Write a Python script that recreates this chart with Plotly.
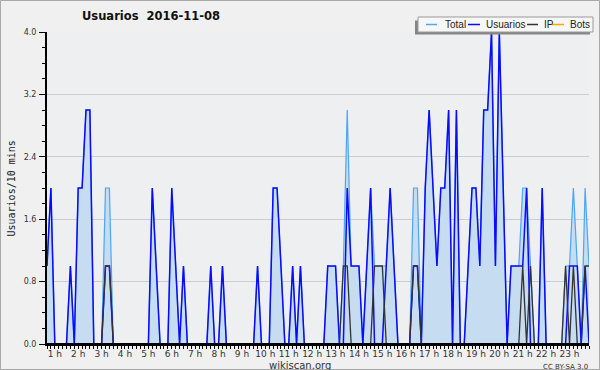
import plotly.graph_objects as go

# 10-minute intervals from 00:40 to 23:50 (140 points), expressed in hours
start_min = 40
n_points = 140
hours = [(start_min + 10 * i) / 60 for i in range(n_points)]

total = [1, 2, 0, 0, 0, 0, 1, 0, 2, 2, 3, 3, 0, 0, 0, 2, 2, 0, 0, 0,
         0, 0, 0, 0, 0, 0, 0, 2, 1, 0, 0, 0, 2, 1, 0, 1, 0, 0, 0, 0,
         0, 0, 1, 0, 0, 1, 0, 0, 0, 0, 0, 0, 0, 0, 1, 0, 0, 0, 2, 2,
         1, 0, 0, 1, 0, 1, 0, 0, 0, 0, 0, 0, 1, 1, 1, 0, 1, 3, 1, 1,
         1, 0, 1, 2, 1, 1, 1, 1, 2, 1, 0, 0, 0, 0, 2, 2, 0, 2, 3, 2,
         1, 2, 2, 3, 0, 3, 0, 0, 1, 2, 2, 1, 3, 3, 4, 1, 4, 2, 0, 1,
         1, 1, 2, 2, 1, 0, 0, 2, 0, 0, 0, 0, 0, 1, 1, 2, 1, 0, 2, 1]

usuarios = [1, 2, 0, 0, 0, 0, 1, 0, 2, 2, 3, 3, 0, 0, 0, 1, 1, 0, 0, 0,
            0, 0, 0, 0, 0, 0, 0, 2, 1, 0, 0, 0, 2, 1, 0, 1, 0, 0, 0, 0,
            0, 0, 1, 0, 0, 1, 0, 0, 0, 0, 0, 0, 0, 0, 1, 0, 0, 0, 2, 2,
            1, 0, 0, 1, 0, 1, 0, 0, 0, 0, 0, 0, 1, 1, 1, 0, 0, 2, 1, 1,
            1, 0, 1, 2, 0, 0, 0, 1, 2, 1, 0, 0, 0, 0, 1, 1, 0, 2, 3, 2,
            1, 2, 2, 3, 0, 3, 0, 0, 1, 2, 2, 1, 3, 3, 4, 1, 4, 2, 0, 1,
            1, 1, 1, 2, 0, 0, 0, 2, 0, 0, 0, 0, 0, 0, 1, 1, 1, 0, 1, 0]

ip = [0, 0, 0, 0, 0, 0, 0, 0, 0, 0, 0, 0, 0, 0, 0, 1, 1, 0, 0, 0,
      0, 0, 0, 0, 0, 0, 0, 0, 0, 0, 0, 0, 0, 0, 0, 0, 0, 0, 0, 0,
      0, 0, 0, 0, 0, 0, 0, 0, 0, 0, 0, 0, 0, 0, 0, 0, 0, 0, 0, 0,
      0, 0, 0, 0, 0, 0, 0, 0, 0, 0, 0, 0, 0, 0, 0, 0, 1, 1, 0, 0,
      0, 0, 0, 0, 1, 1, 1, 0, 0, 0, 0, 0, 0, 0, 1, 1, 0, 0, 0, 0,
      0, 0, 0, 0, 0, 0, 0, 0, 0, 0, 0, 0, 0, 0, 0, 0, 0, 0, 0, 0,
      0, 0, 1, 0, 1, 0, 0, 0, 0, 0, 0, 0, 0, 1, 0, 1, 0, 0, 1, 1]

bots = [0] * n_points

hour_ticks = list(range(1, 24))
hour_labels = [f"{h} h" for h in hour_ticks]
y_ticks = [0.0, 0.8, 1.6, 2.4, 3.2, 4.0]

series_names = ["Total", "Usuarios", "IP", "Bots"]
series_colors = ["#4EA5F2", "#0A0AFF", "#333333", "#FFA500"]

W, H = 600, 370
L, R, T, B = 47, 589, 32, 344


def fx(p):
    return (p - L) / (R - L)


def fy(p):
    return (B - p) / (B - T)


fig = go.Figure()
fig.add_trace(go.Scatter(x=hours, y=total, mode="lines", name="Total",
                         line=dict(color=series_colors[0], width=1.2),
                         fill="tozeroy", fillcolor="#C6DCF0"))
fig.add_trace(go.Scatter(x=hours, y=usuarios, mode="lines", name="Usuarios",
                         line=dict(color=series_colors[1], width=1.5)))
fig.add_trace(go.Scatter(x=hours, y=ip, mode="lines", name="IP",
                         line=dict(color=series_colors[2], width=1.3)))
fig.add_trace(go.Scatter(x=hours, y=bots, mode="lines", name="Bots",
                         line=dict(color=series_colors[3], width=1)))

font_main = "DejaVu Sans"
font_legend = "Liberation Sans"

fig.update_layout(
    width=W, height=H,
    margin=dict(l=L, r=W - R, t=T, b=H - B, pad=0),
    paper_bgcolor="#F0F0F0",
    plot_bgcolor="#EEEFF1",
    showlegend=False,
    font=dict(family=font_main, color="#333333"),
    xaxis=dict(
        range=[hours[0], hours[-1]],
        tickvals=hour_ticks, ticktext=hour_labels,
        ticks="outside", ticklen=3, tickcolor="black", tickwidth=1,
        tickfont=dict(size=9, color="#333333", family=font_main),
        showgrid=False, zeroline=False,
        showline=True, linecolor="black", linewidth=2,
        minor=dict(dtick=1 / 6, tick0=0, ticks="outside", ticklen=3,
                   tickcolor="black", tickwidth=1, showgrid=False),
        ticklabelstandoff=-3,
    ),
    yaxis=dict(
        range=[0, 4],
        tickvals=y_ticks, ticktext=[f"{v:.1f}" for v in y_ticks],
        ticks="outside", ticklen=6, tickcolor="black", tickwidth=1,
        tickfont=dict(size=8, color="#333333", family=font_main),
        showgrid=True, gridcolor="#CCCCCC", gridwidth=1,
        zeroline=False,
        showline=True, linecolor="black", linewidth=2,
        minor=dict(dtick=0.2, ticks="outside", ticklen=3,
                   tickcolor="black", tickwidth=1, showgrid=False),
        ticklabelstandoff=1,
    ),
)

shapes = []
# outer border
shapes.append(dict(type="rect", xref="paper", yref="paper",
                   x0=fx(0.5), x1=fx(599.5), y0=fy(0.5), y1=fy(369.5),
                   line=dict(color="#A8A8A8", width=1), layer="below"))
# baseline over zero-valued lines
shapes.append(dict(type="line", xref="paper", yref="paper",
                   x0=0, x1=1, y0=0, y1=0,
                   line=dict(color="black", width=2), layer="above"))
# legend shadow and box
shapes.append(dict(type="rect", xref="paper", yref="paper",
                   x0=fx(415), x1=fx(590), y0=fy(34.5), y1=fy(20.5),
                   fillcolor="#858585", line=dict(width=0), layer="above"))
shapes.append(dict(type="rect", xref="paper", yref="paper",
                   x0=fx(418), x1=fx(593), y0=fy(32), y1=fy(17),
                   fillcolor="#F7F7F7", line=dict(color="#9A9A9A", width=1),
                   layer="above"))

legend_line_x = [(426, 437), (468, 480), (527, 538), (552, 564)]
legend_text_x = [443, 484, 542, 568]
ly = 24.5
annotations = []
for name, col, (a, b), tx in zip(series_names, series_colors, legend_line_x, legend_text_x):
    shapes.append(dict(type="line", xref="paper", yref="paper",
                       x0=fx(a), x1=fx(b), y0=fy(ly), y1=fy(ly),
                       line=dict(color=col, width=1.5), layer="above"))
    annotations.append(dict(text=name, xref="paper", yref="paper",
                            x=fx(tx), y=fy(ly), xanchor="left", yanchor="middle",
                            showarrow=False,
                            font=dict(size=10, color="#222222", family=font_legend)))

annotations.append(dict(text="<b>Usuarios\u00a0\u00a02016-11-08</b>", xref="paper", yref="paper",
                        x=fx(151), y=fy(16), xanchor="center", yanchor="middle",
                        showarrow=False,
                        font=dict(size=11.5, color="#111111", family=font_main)))
annotations.append(dict(text="Usuarios/10 mins", xref="paper", yref="paper",
                        x=fx(10.5), y=fy(189), xanchor="center", yanchor="middle",
                        textangle=-90, showarrow=False,
                        font=dict(size=10, color="#222222", family="DejaVu Sans Mono")))
annotations.append(dict(text="wikiscan.org", xref="paper", yref="paper",
                        x=fx(300), y=fy(365), xanchor="center", yanchor="middle",
                        showarrow=False,
                        font=dict(size=10, color="#333333", family=font_main)))
annotations.append(dict(text="CC BY-SA 3.0", xref="paper", yref="paper",
                        x=fx(590), y=fy(367), xanchor="right", yanchor="middle",
                        showarrow=False,
                        font=dict(size=7, color="#333333", family=font_main)))

fig.update_layout(shapes=shapes, annotations=annotations)
fig.write_html("out.html", config={"displayModeBar": False})

# remove the default page margin so the figure sits at the window's top-left
with open("out.html", "r", encoding="utf-8") as f:
    html = f.read()
html = html.replace("<body>", '<body style="margin:0;padding:0;overflow:hidden">', 1)
html = html.replace("<head>", "<head><style>html,body{margin:0;padding:0;}</style>", 1)
with open("out.html", "w", encoding="utf-8") as f:
    f.write(html)
